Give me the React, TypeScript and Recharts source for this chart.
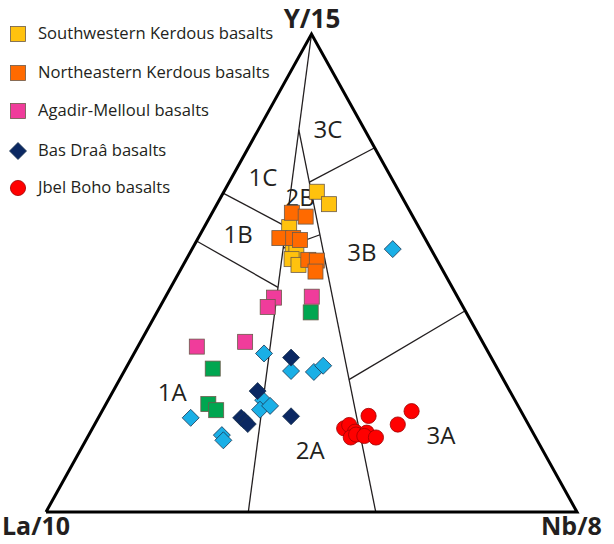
import React from 'react';
import { ScatterChart, Scatter, XAxis, YAxis, ReferenceLine } from 'recharts';

// ternary values in %: [Y/15, La/10, Nb/8]
type Tern = [number, number, number];

const swKerdous: Tern[] = [
  [67.0, 15.5, 17.5], [64.4, 14.5, 21.1], [59.6, 24.4, 16.0], [56.1, 25.5, 18.4],
  [54.5, 25.6, 19.9], [52.9, 27.3, 19.8], [51.7, 26.6, 21.7],
];
const neKerdous: Tern[] = [
  [62.6, 22.4, 15.0], [61.8, 20.2, 18.0], [57.3, 27.4, 15.3], [57.3, 24.8, 17.9],
  [56.9, 23.7, 19.4], [52.7, 24.2, 23.0], [52.6, 22.7, 24.7], [50.3, 24.1, 25.6],
];
const agadirMelloul: Tern[] = [
  [44.8, 34.6, 20.5], [42.9, 36.8, 20.3], [45.0, 27.4, 27.5], [34.6, 54.3, 11.1], [35.6, 44.7, 19.7],
];
const greenSamples: Tern[] = [
  [41.8, 29.3, 29.0], [30.0, 53.6, 16.4], [22.6, 58.2, 19.3], [21.3, 57.3, 21.4],
];
const cyanSamples: Tern[] = [
  [33.2, 42.4, 24.5], [29.5, 39.1, 31.4], [29.3, 34.9, 35.8], [30.6, 32.5, 36.9],
  [19.7, 62.9, 17.4], [23.4, 47.4, 29.2], [21.4, 49.0, 29.6], [22.2, 46.7, 31.1],
  [16.1, 58.9, 25.1], [15.0, 59.1, 25.9], [55.0, 7.2, 37.8],
];
const basDraa: Tern[] = [
  [32.3, 37.7, 30.0], [25.3, 47.5, 27.2], [19.7, 53.4, 26.9], [19.2, 53.1, 27.7],
  [18.4, 52.8, 28.8], [20.0, 43.8, 36.1],
];
const jbelBoho: Tern[] = [
  [20.1, 29.2, 50.7], [21.1, 20.6, 58.3], [18.3, 24.6, 57.1], [17.5, 35.1, 47.4],
  [18.2, 33.8, 48.0], [16.8, 33.4, 49.8], [15.6, 34.8, 49.6], [16.2, 33.5, 50.3],
  [16.6, 31.3, 52.1], [15.9, 32.1, 52.0], [15.6, 30.1, 54.4],
];

const outline: Tern[] = [[0, 100, 0], [0, 0, 100], [100, 0, 0], [0, 100, 0]];
const boundaries: [Tern, Tern][] = [
  [[100, 0, 0], [0, 61.9, 38.1]],
  [[80, 12.4, 7.6], [0, 37.9, 62.1]],
  [[69, 15.9, 15.1], [76.2, 0, 23.8]],
  [[27.7, 29.1, 43.2], [42.1, 0, 57.9]],
  [[66.7, 33.3, 0], [59.7, 24.9, 15.4]],
  [[55.2, 27.7, 17.1], [58, 19.4, 22.6]],
  [[56.7, 43.3, 0], [47.0, 32.8, 20.2]],
];
const fieldNames = ['1C', '1B', '2B', '3C', '3B', '1A', '2A', '3A'];
const fieldPos: Tern[] = [
  [70.1, 24.1, 5.8], [58.4, 34.7, 7.0], [66.1, 19.1, 14.8], [80.2, 6.8, 13.0],
  [54.6, 13.2, 32.2], [25.3, 63.6, 11.1], [13.1, 43.7, 43.2], [16.3, 17.5, 66.3],
];

const legendItems = [
  { name: 'Southwestern Kerdous basalts', kind: 'square', color: '#FFC20E' },
  { name: 'Northeastern Kerdous basalts', kind: 'square', color: '#FF6A00' },
  { name: 'Agadir-Melloul basalts', kind: 'square', color: '#F03C9B' },
  { name: 'Bas Draâ basalts', kind: 'diamond', color: '#0B2862' },
  { name: 'Jbel Boho basalts', kind: 'circle', color: '#FF0000' },
];

const toXY = ([y, la, nb]: Tern) => {
  const s = y + la + nb;
  return { x: (nb + y / 2) / s, y: y / s };
};

const FONT = '"Open Sans", "Noto Sans", sans-serif';

const square = (fill: string) => (p: any) => (
  <rect x={p.cx - 7.5} y={p.cy - 7.5} width={15} height={15} fill={fill} stroke="#6b5a4a" strokeWidth={0.8} />
);
const diamond = (fill: string) => (p: any) => (
  <path d={`M${p.cx},${p.cy - 8.5}L${p.cx + 8.5},${p.cy}L${p.cx},${p.cy + 8.5}L${p.cx - 8.5},${p.cy}Z`} fill={fill} stroke="#1d3550" strokeWidth={0.8} />
);
const circle = (fill: string) => (p: any) => (
  <circle cx={p.cx} cy={p.cy} r={7.6} fill={fill} stroke="#a00000" strokeWidth={0.8} />
);

function LegendMarker({ kind, color }: { kind: string; color: string }) {
  return (
    <svg width={20} height={20} style={{ position: 'absolute', left: 8, top: -10 }}>
      {kind === 'square' && <rect x={2.5} y={2.5} width={15} height={15} fill={color} stroke="#6b5a4a" strokeWidth={0.8} />}
      {kind === 'diamond' && <path d="M10,1.5L18.5,10L10,18.5L1.5,10Z" fill={color} stroke="#1d3550" strokeWidth={0.8} />}
      {kind === 'circle' && <circle cx={10} cy={10} r={7.6} fill={color} stroke="#a00000" strokeWidth={0.8} />}
    </svg>
  );
}

export default function App() {
  const legendY = [34, 73, 111, 151, 188];
  const fieldData = fieldPos.map((p, i) => ({ ...toXY(p), name: fieldNames[i] }));
  return (
    <div style={{ position: 'absolute', left: 0, top: 0, width: 614, height: 544, background: '#fff', overflow: 'hidden', fontFamily: FONT }}>
      <ScatterChart width={614} height={544} margin={{ top: 34, right: 37, bottom: 32, left: 46 }}>
        <XAxis type="number" dataKey="x" domain={[0, 1]} hide />
        <YAxis type="number" dataKey="y" domain={[0, 1]} hide />
        {boundaries.map((b, i) => (
          <ReferenceLine key={i} segment={[toXY(b[0]), toXY(b[1])]} stroke="#231F20" strokeWidth={1.3} ifOverflow="visible" />
        ))}
        <Scatter data={outline.map(toXY)} line={{ stroke: '#000', strokeWidth: 3 }} shape={() => <g />} isAnimationActive={false} />
        <Scatter
          data={fieldData}
          isAnimationActive={false}
          shape={(p: any) => (
            <text x={p.cx} y={p.cy} textAnchor="middle" dominantBaseline="central" fontSize={24} fill="#231F20" fontFamily={FONT}>
              {p.payload.name}
            </text>
          )}
        />
        <Scatter data={greenSamples.map(toXY)} shape={square('#00A650')} isAnimationActive={false} />
        <Scatter data={agadirMelloul.map(toXY)} shape={square('#F03C9B')} isAnimationActive={false} />
        <Scatter data={swKerdous.map(toXY)} shape={square('#FFC20E')} isAnimationActive={false} />
        <Scatter data={neKerdous.map(toXY)} shape={square('#FF6A00')} isAnimationActive={false} />
        <Scatter data={cyanSamples.map(toXY)} shape={diamond('#1AAFE6')} isAnimationActive={false} />
        <Scatter data={basDraa.map(toXY)} shape={diamond('#0B2862')} isAnimationActive={false} />
        <Scatter data={jbelBoho.map(toXY)} shape={circle('#FF0000')} isAnimationActive={false} />
      </ScatterChart>

      {legendItems.map((it, i) => (
        <div key={it.name} style={{ position: 'absolute', left: 0, top: legendY[i], height: 0 }}>
          <LegendMarker kind={it.kind} color={it.color} />
          <div style={{ position: 'absolute', left: 38, top: -12, fontSize: 16.6, lineHeight: '22px', color: '#231F20', whiteSpace: 'nowrap' }}>
            {it.name}
          </div>
        </div>
      ))}

      <div style={{ position: 'absolute', left: 262, width: 100, top: 4, textAlign: 'center', fontWeight: 700, fontSize: 26, lineHeight: '28px', color: '#231F20' }}>Y/15</div>
      <div style={{ position: 'absolute', left: 2, top: 512, fontWeight: 700, fontSize: 25, lineHeight: '26px', color: '#231F20' }}>La/10</div>
      <div style={{ position: 'absolute', left: 541, top: 512, fontWeight: 700, fontSize: 25, lineHeight: '26px', color: '#231F20', whiteSpace: 'nowrap' }}>Nb/8</div>
    </div>
  );
}
